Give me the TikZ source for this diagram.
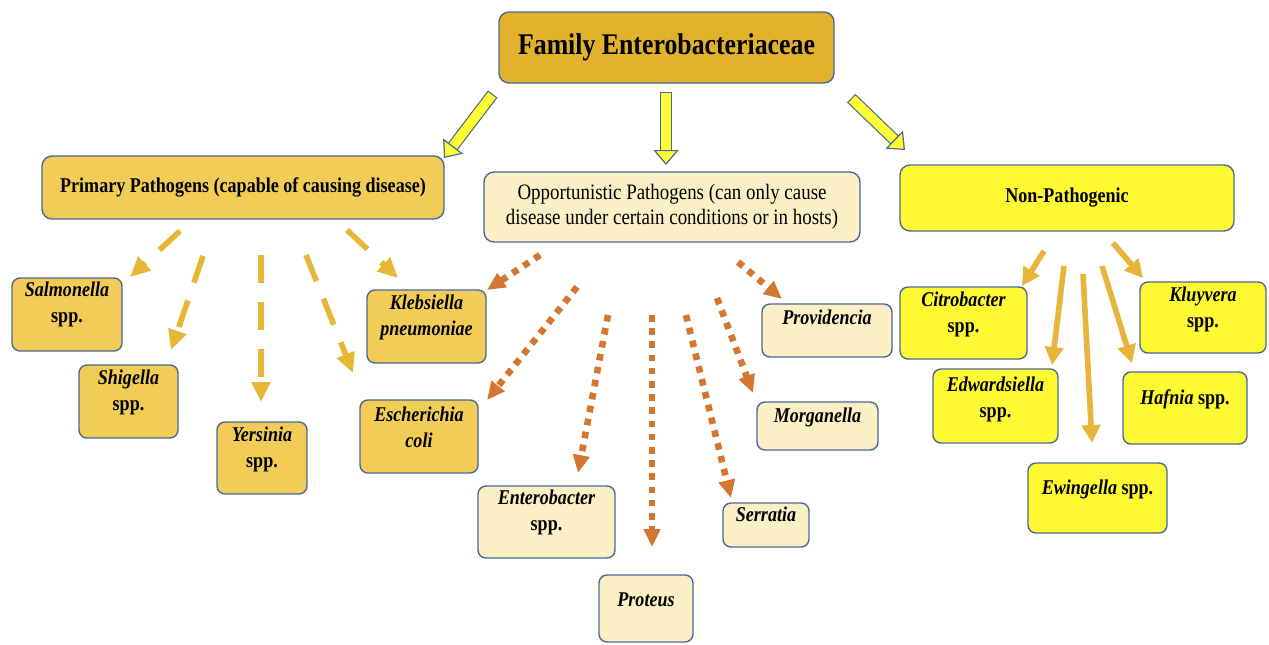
\documentclass[tikz,border=0pt]{standalone}
\usepackage{fontspec}
\setmainfont[FakeStretch=0.86]{Liberation Serif}
\usetikzlibrary{positioning, arrows.meta}
\definecolor{titlecol}{RGB}{226, 178, 44}
\definecolor{primcol}{RGB}{241, 205, 88}
\definecolor{oppcol}{RGB}{251, 239, 197}
\definecolor{noncol}{RGB}{255, 249, 51}
\definecolor{edgecol}{RGB}{78, 104, 148}
\definecolor{bigyellow}{RGB}{255, 255, 51}
\definecolor{dashcol}{RGB}{230, 182, 55}
\definecolor{dotcol}{RGB}{210, 118, 48}
\definecolor{solidcol}{RGB}{232, 180, 58}
\tikzset{
  catbox/.style={draw=edgecol, line width=0.7pt, rounded corners=5pt, align=center},
  spbox/.style={draw=edgecol, line width=0.7pt, rounded corners=4pt},
  spname/.style={inner sep=0pt, align=center, font=\fontsize{10.5}{13}\selectfont\bfseries},
  bigarrow/.style={line width=4.8pt, draw=bigyellow,
                   -{Triangle[length=7.5pt, width=12.5pt, line width=0.6pt, color=edgecol, fill=bigyellow]},
                   preaction={draw=edgecol, line width=6pt, -, shorten >=4.5pt, shorten <=-0.6pt}},
  dasharrow/.style={draw=dashcol, line width=2.8pt, dash pattern=on 14pt off 9.5pt,
                    -{Triangle[length=10pt, width=9pt]}},
  dotarrow/.style={draw=dotcol, line width=3.3pt, dash pattern=on 3.3pt off 3.3pt,
                   -{Triangle[length=9pt, width=8pt]}},
  fullarrow/.style={draw=solidcol, line width=2.8pt, -{Triangle[length=9pt, width=9pt]}},
}

\begin{document}
\begin{tikzpicture}[x=0.5pt, y=-0.5pt]
  \useasboundingbox (0,0) rectangle (1269,644);

  % family and the three groups
  \node[catbox, fill=titlecol, minimum width=167.5pt, minimum height=35.5pt,
        font=\fontsize{15}{18}\selectfont\bfseries] (fam) at (666.5,47.5) {Family Enterobacteriaceae};
  \node[catbox, fill=primcol, minimum width=201pt, minimum height=31.5pt,
        font=\fontsize{10.5}{13}\selectfont\bfseries] (prim) at (243,187.5) {Primary Pathogens (capable of causing disease)};
  \node[catbox, fill=oppcol, minimum width=188pt, minimum height=35pt,
        font=\fontsize{11}{12.5}\selectfont] (opp) at (672,207) {Opportunistic Pathogens (can only cause\\disease under certain conditions or in hosts)};
  \node[catbox, fill=noncol, minimum width=167pt, minimum height=33pt,
        font=\fontsize{10.5}{13}\selectfont\bfseries] (non) at (1067,198) {Non-Pathogenic};

  % primary pathogens
  \node[spbox, fill=primcol, minimum width=55pt, minimum height=36.5pt] (salm) at (67,314.5) {};
  \node[spname, below=2pt of salm.north] (salm-t) {\textit{Salmonella}\\spp.};
  \node[spbox, fill=primcol, minimum width=49.5pt, minimum height=36.5pt] (shig) at (128.5,401.5) {};
  \node[spname, below=2.5pt of shig.north] (shig-t) {\textit{Shigella}\\spp.};
  \node[spbox, fill=primcol, minimum width=45pt, minimum height=36pt] (yers) at (262,458) {};
  \node[spname, below=2.5pt of yers.north] (yers-t) {\textit{Yersinia}\\spp.};
  \node[spbox, fill=primcol, minimum width=59.5pt, minimum height=36.5pt] (kleb) at (426.5,326.5) {};
  \node[spname, below=2.5pt of kleb.north] (kleb-t) {\textit{Klebsiella}\\\textit{pneumoniae}};
  \node[spbox, fill=primcol, minimum width=59pt, minimum height=36.5pt] (esch) at (419,436.5) {};
  \node[spname, below=3.5pt of esch.north] (esch-t) {\textit{Escherichia}\\\textit{coli}};

  % opportunistic pathogens
  \node[spbox, fill=oppcol, minimum width=65pt, minimum height=26.5pt] (prov) at (827,330.5) {};
  \node[spname, below=3pt of prov.north] (prov-t) {\textit{Providencia}};
  \node[spbox, fill=oppcol, minimum width=60.5pt, minimum height=24pt] (morg) at (817.5,426) {};
  \node[spname, below=3pt of morg.north] (morg-t) {\textit{Morganella}};
  \node[spbox, fill=oppcol, minimum width=43pt, minimum height=22pt] (serr) at (766,525) {};
  \node[spname, below=2pt of serr.north] (serr-t) {\textit{Serratia}};
  \node[spbox, fill=oppcol, minimum width=47pt, minimum height=33.5pt] (prot) at (646,608.5) {};
  \node[spname, below=9pt of prot.north] (prot-t) {\textit{Proteus}};
  \node[spbox, fill=oppcol, minimum width=68.5pt, minimum height=36pt] (entb) at (546.5,522) {};
  \node[spname, below=2pt of entb.north] (entb-t) {\textit{Enterobacter}\\spp.};

  % non-pathogenic
  \node[spbox, fill=noncol, minimum width=63.5pt, minimum height=36pt] (citr) at (963.5,323) {};
  \node[spname, below=2.5pt of citr.north] (citr-t) {\textit{Citrobacter}\\spp.};
  \node[spbox, fill=noncol, minimum width=63pt, minimum height=35.5pt] (kluy) at (1203,317.5) {};
  \node[spname, below=2.5pt of kluy.north] (kluy-t) {\textit{Kluyvera}\\spp.};
  \node[spbox, fill=noncol, minimum width=62.5pt, minimum height=37pt] (edwa) at (995.5,406) {};
  \node[spname, below=4pt of edwa.north] (edwa-t) {\textit{Edwardsiella}\\spp.};
  \node[spbox, fill=noncol, minimum width=62pt, minimum height=36pt] (hafn) at (1185,408) {};
  \node[spname, below=9pt of hafn.north] (hafn-t) {\textit{Hafnia} spp.};
  \node[spbox, fill=noncol, minimum width=69.5pt, minimum height=35pt] (ewin) at (1097.5,498) {};
  \node[spname, below=8.5pt of ewin.north] (ewin-t) {\textit{Ewingella} spp.};

  % arrow ends
  \coordinate (prim-s) at (492,95);   \coordinate (prim-e) at (444,158);
  \coordinate (opp-s) at (666,93);    \coordinate (opp-e) at (666,165);
  \coordinate (non-s) at (852,99);    \coordinate (non-e) at (905,150);

  \coordinate (salm-s) at (180,231);  \coordinate (salm-e) at (130,277);
  \coordinate (shig-s) at (203,256);  \coordinate (shig-e) at (171,350);
  \coordinate (yers-s) at (261,255);  \coordinate (yers-e) at (261,402);
  \coordinate (esch-s) at (306,255);  \coordinate (esch-e) at (353,373);
  \coordinate (kleb-s) at (347,230);  \coordinate (kleb-e) at (398,278);

  \coordinate (okleb-s) at (540,255); \coordinate (okleb-e) at (487,290);
  \coordinate (oesch-s) at (577,287); \coordinate (oesch-e) at (487,400);
  \coordinate (entb-s) at (608,315);  \coordinate (entb-e) at (578,473);
  \coordinate (prot-s) at (652,315);  \coordinate (prot-e) at (652,547);
  \coordinate (serr-s) at (686,315);  \coordinate (serr-e) at (731,498);
  \coordinate (morg-s) at (717,298);  \coordinate (morg-e) at (753,393);
  \coordinate (prov-s) at (738,262);  \coordinate (prov-e) at (782,299);

  \coordinate (citr-s) at (1044,251); \coordinate (citr-e) at (1022,286);
  \coordinate (edwa-s) at (1064,266); \coordinate (edwa-e) at (1052,365);
  \coordinate (ewin-s) at (1083,274); \coordinate (ewin-e) at (1092,443);
  \coordinate (hafn-s) at (1102,266); \coordinate (hafn-e) at (1132,363);
  \coordinate (kluy-s) at (1113,243); \coordinate (kluy-e) at (1143,278);

  \foreach \n in {prim, opp, non}
    \draw[bigarrow] (\n-s) -- (\n-e);
  \foreach \n in {salm, shig, yers, esch, kleb}
    \draw[dasharrow] (\n-s) -- (\n-e);
  \foreach \n in {okleb, oesch, entb, prot, serr, morg, prov}
    \draw[dotarrow] (\n-s) -- (\n-e);
  \foreach \n in {citr, edwa, ewin, hafn, kluy}
    \draw[fullarrow] (\n-s) -- (\n-e);
\end{tikzpicture}
\end{document}
